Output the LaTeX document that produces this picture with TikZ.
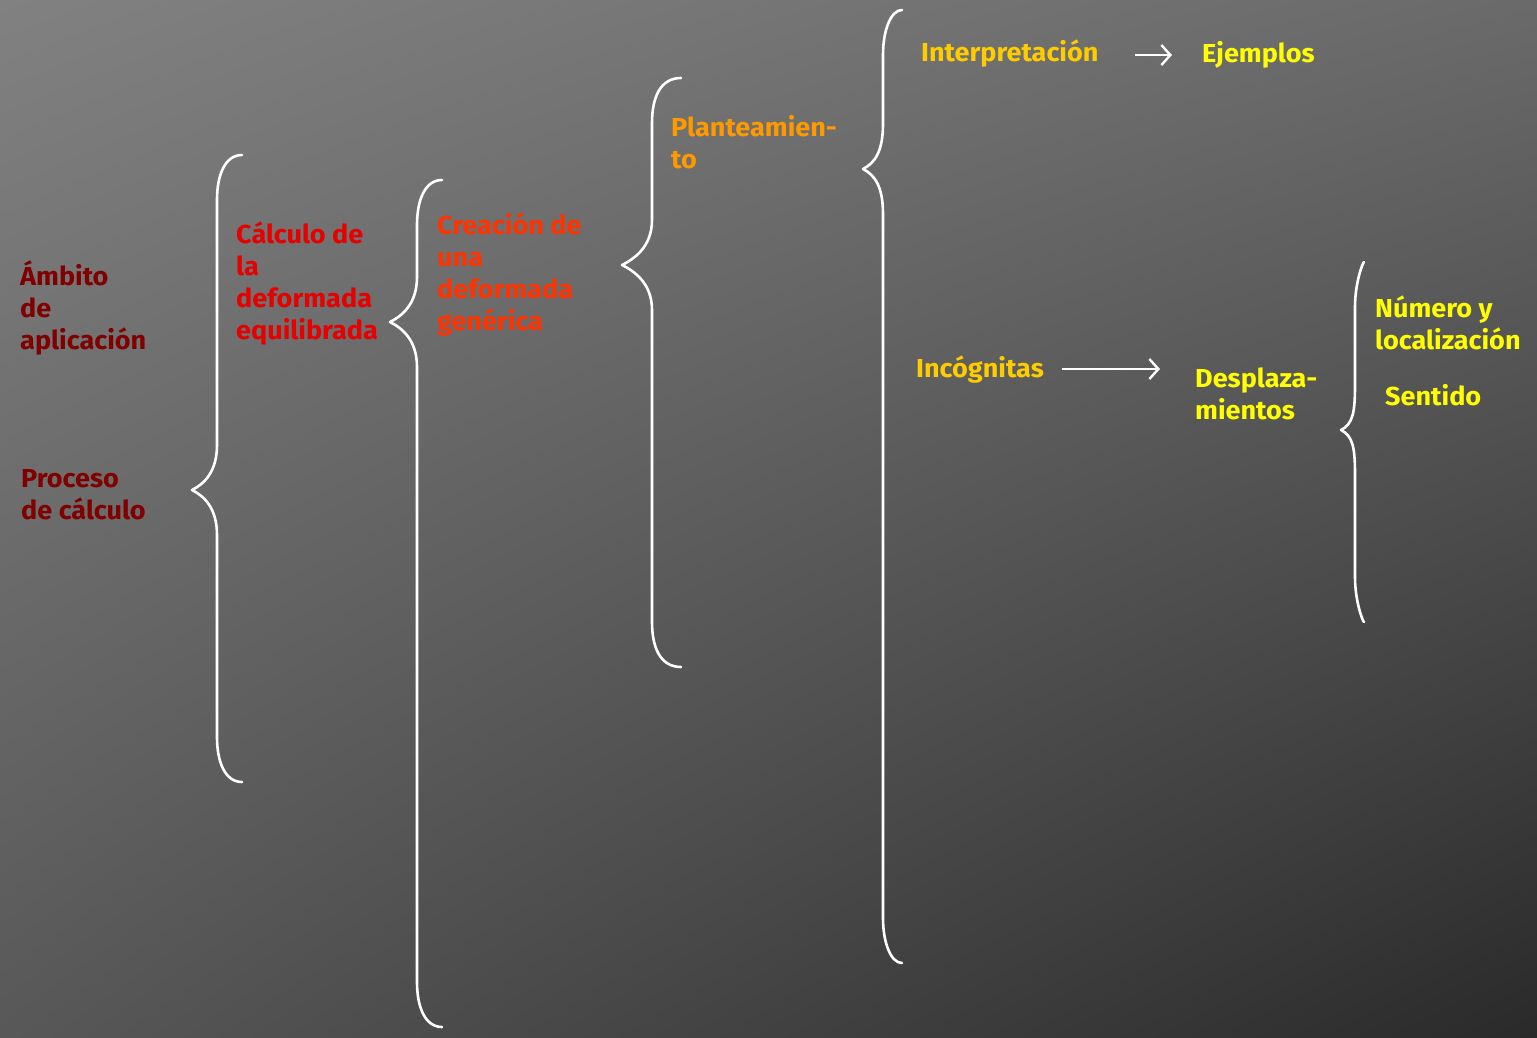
\documentclass[tikz,border=0pt]{standalone}
\usepackage{fontspec}
\setmainfont{Fira Sans}[FakeStretch=1.04]
\usetikzlibrary{arrows.meta,shadings}
\definecolor{bgUL}{HTML}{818181}
\definecolor{bgUR}{HTML}{6A6A6A}
\definecolor{bgLL}{HTML}{585858}
\definecolor{bgLR}{HTML}{2A2A2A}
\definecolor{cDkRed}{HTML}{800000}
\definecolor{cRed}{HTML}{E60000}
\definecolor{cOrRed}{HTML}{FF3300}
\definecolor{cOrange}{HTML}{FF9900}
\definecolor{cGold}{HTML}{FFCC00}
\definecolor{cYellow}{HTML}{FFFF00}
\tikzset{
  txt/.style={anchor=base west, inner sep=0pt, font=\fontsize{26}{32}\selectfont\bfseries},
  bracepath/.style={draw=white, line width=2.6pt, line cap=round, line join=round},
  arr/.style={draw=white, line width=2.4pt, -{Straight Barb[length=9pt,width=20pt,line width=2.4pt]}},
}
\newcommand\mybrace[6]{%
  \draw[bracepath] (#1,#4) .. controls (#2+8,#4) and (#2,#4+20) .. (#2,#4+45)
    -- (#2,#5-45) .. controls (#2,#5-18) and (#3+12,#5-6) .. (#3,#5)
    .. controls (#3+12,#5+6) and (#2,#5+18) .. (#2,#5+45)
    -- (#2,#6-45) .. controls (#2,#6-20) and (#2+8,#6) .. (#1,#6);}
\begin{document}
\begin{tikzpicture}[x=1pt,y=-1pt]
\useasboundingbox (0,0) rectangle (1537,1037);
\shade[upper left=bgUL, upper right=bgUR, lower left=bgLL, lower right=bgLR] (0,0) rectangle (1537,1037);

% braces
\mybrace{242}{217}{192}{155}{490}{782}
\mybrace{442}{417}{390}{180}{322}{1027}
\mybrace{681}{652}{622}{78}{265}{667}
\mybrace{902}{883}{863}{10}{169}{963}
\mybrace{1364}{1355}{1341}{262}{430}{622}

% texts
\node[txt, text=cDkRed] (ambito) at (20,285) {\begin{tabular}[t]{@{}l@{}}Ámbito\\de\\aplicación\end{tabular}};
\node[txt, text=cDkRed] (proceso) at (21,487) {\begin{tabular}[t]{@{}l@{}}Proceso\\de cálculo\end{tabular}};
\node[txt, text=cRed] (calculo) at (236,243) {\begin{tabular}[t]{@{}l@{}}Cálculo de\\la\\deformada\\equilibrada\end{tabular}};
\node[txt, text=cOrRed] (creacion) at (437,234) {\begin{tabular}[t]{@{}l@{}}Creación de\\una\\deformada\\genérica\end{tabular}};
\node[txt, text=cOrange] (plant) at (671,136) {\begin{tabular}[t]{@{}l@{}}Planteamien-\\to\end{tabular}};
\node[txt, text=cGold] (interp) at (921,61) {Interpretación};
\node[txt, text=cYellow] (ejem) at (1202,62) {Ejemplos};
\node[txt, text=cGold] (incog) at (916,377) {Incógnitas};
\node[txt, text=cYellow] (despl) at (1195,387) {\begin{tabular}[t]{@{}l@{}}Desplaza-\\mientos\end{tabular}};
\node[txt, text=cYellow] (numero) at (1375,317) {\begin{tabular}[t]{@{}l@{}}Número y\\localización\end{tabular}};
\node[txt, text=cYellow] (sentido) at (1385,405) {Sentido};

% arrows
\draw[arr] ([xshift=36pt,yshift=-2pt]interp.east) -- ([xshift=-30pt,yshift=-2pt]interp.east -| ejem.west);
\draw[arr] ([xshift=18pt]incog.east) -- ([xshift=-35pt]incog.east -| despl.west);
\end{tikzpicture}
\end{document}
